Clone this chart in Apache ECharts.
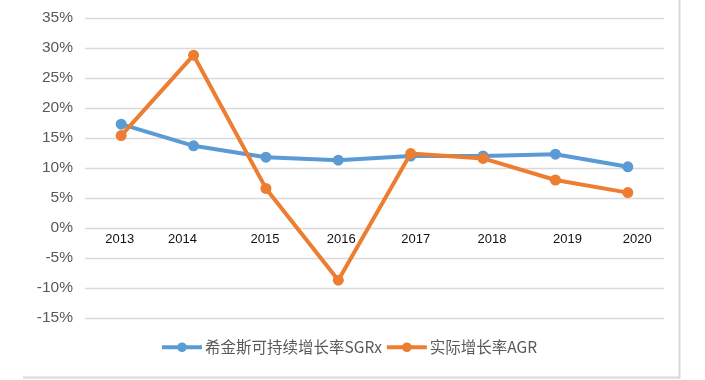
<!DOCTYPE html>
<html>
<head>
<meta charset="utf-8">
<script src="https://cdn.jsdelivr.net/npm/echarts@6/dist/echarts.min.js"></script>
<style>html,body{margin:0;padding:0;background:#fff}#c{width:705px;height:380px}</style>
</head>
<body>
<div id="c"></div>
<script>
const categories = ['2013','2014','2015','2016','2017','2018','2019','2020'];
const sgrValues = [17.3, 13.7, 11.8, 11.3, 12.0, 12.0, 12.3, 10.2];
const agrValues = [15.4, 28.8, 6.6, -8.7, 12.4, 11.6, 8.0, 5.9];
const seriesNames = ['希金斯可持续增长率SGRx', '实际增长率AGR'];
const yTicks = { min: -15, max: 35, step: 5 };
// label horizontal nudges (px) imitating the original rendering
const labelShift = [-1.5, -11, -1, 3, 5, 9, 12, 9.5];

const rich = {};
labelShift.forEach((d, i) => {
  rich['s' + i] = {
    fontFamily: 'Liberation Sans, Arial, sans-serif',
    fontSize: 13, color: '#111',
    padding: d >= 0 ? [0, 0, 0, 2 * d] : [0, -2 * d, 0, 0]
  };
});

const chart = echarts.init(document.getElementById('c'), null, { renderer: 'canvas' });
chart.setOption({
  backgroundColor: '#fff',
  animation: false,
  grid: { left: 85, right: 41, top: 18, bottom: 62, containLabel: false },
  legend: {
    bottom: 20, left: 155,
    itemWidth: 40, itemHeight: 12, itemGap: 3,
    lineStyle: { width: 4 },
    textStyle: { fontSize: 15.5, color: '#595959', fontFamily: 'Noto Sans CJK SC, sans-serif', padding: [0, 0, 0, -2] },
    data: seriesNames
  },
  xAxis: {
    type: 'category',
    data: categories,
    boundaryGap: true,
    axisLine: { show: false, onZero: false },
    axisTick: { show: false },
    axisLabel: {
      margin: 5,
      formatter: (v, i) => '{s' + i + '|' + v + '}',
      rich: rich
    },
    splitLine: { show: false }
  },
  yAxis: {
    type: 'value',
    min: yTicks.min, max: yTicks.max, interval: yTicks.step,
    axisLine: { show: false },
    axisTick: { show: false },
    axisLabel: {
      formatter: v => v + '%',
      fontSize: 15.5, color: '#595959', margin: 12,
      fontFamily: 'Liberation Sans Narrow, Liberation Sans, Arial, sans-serif'
    },
    splitLine: { lineStyle: { color: '#d9d9d9', width: 1.3 } }
  },
  series: [
    {
      name: seriesNames[0], type: 'line', data: sgrValues,
      symbol: 'circle', symbolSize: 11,
      lineStyle: { color: '#5b9bd5', width: 4 },
      itemStyle: { color: '#5b9bd5' },
      z: 2
    },
    {
      name: seriesNames[1], type: 'line', data: agrValues,
      symbol: 'circle', symbolSize: 11,
      lineStyle: { color: '#ed7d31', width: 4 },
      itemStyle: { color: '#ed7d31' },
      z: 3
    }
  ],
  graphic: [
    { type: 'line', shape: { x1: 23, y1: 377.5, x2: 680, y2: 377.5 }, style: { stroke: '#d9d9d9', lineWidth: 2 } },
    { type: 'line', shape: { x1: 679.5, y1: 0, x2: 679.5, y2: 378 }, style: { stroke: '#d9d9d9', lineWidth: 2 } }
  ]
});
// place the category labels just under the 0% line
const yZero = chart.convertToPixel({ yAxisIndex: 0 }, 0);
const yMin = chart.convertToPixel({ yAxisIndex: 0 }, yTicks.min);
chart.setOption({ xAxis: { offset: -(yMin - yZero) } });
</script>
</body>
</html>
